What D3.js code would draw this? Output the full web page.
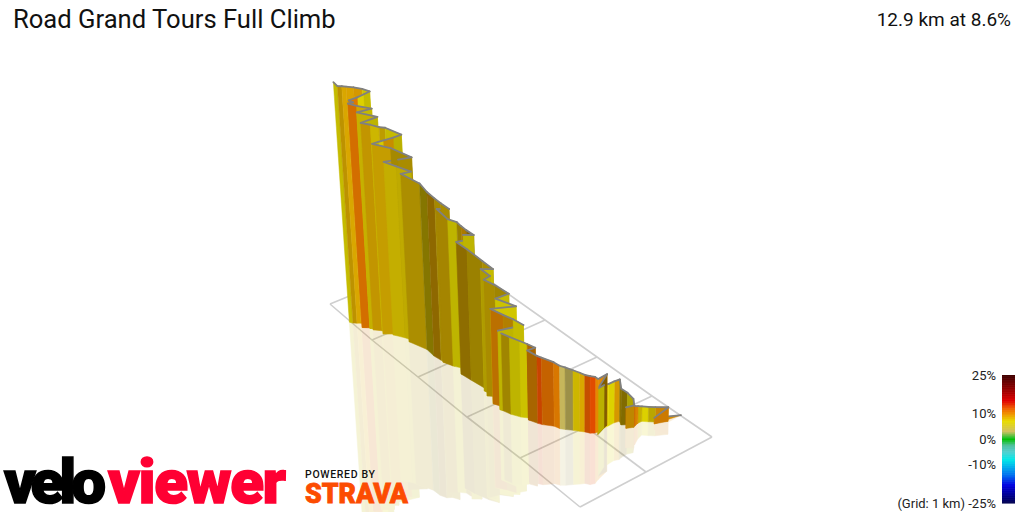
<!DOCTYPE html>
<html>
<head>
<meta charset="utf-8">
<script src="https://cdn.jsdelivr.net/npm/d3@7"></script>
<style>
  html, body { margin: 0; background: #fff; }
  text { font-family: Roboto, sans-serif; }
</style>
</head>
<body>
<div id="chart"></div>
<script>
const titleText = "Road Grand Tours Full Climb";
const summaryText = "12.9 km at 8.6%";

// road points, from the foot of the climb to the summit
// along / across: position on the 1 km ground grid, elevation: metres above the foot
const along = [4.475,4.41,4.47,4.39,4.34,4.29,4.29,4.31,4.28,4.32,4.31,4.24,4.2,4.14,4.125,4.13,4.13,4.18,4.11,4.145,4.14,4.11,4.06,4.02,3.96,3.89,3.84,3.76,3.65,3.6,3.48,3.55,3.45,3.385,3.27,3.16,3.12,3.35,3.255,3.13,2.98,3.2,3.0,3.08,2.9,2.81,2.84,2.71,2.85,2.69,2.44,2.265,2.395,2.365,2.44,2.34,2.255,2.175,2.08,1.935,2.09,1.97,1.89,1.76,1.59,1.315,1.41,1.215,1.07,1.19,1.325,1.11,0.975,1.02,1.06,1.13,1.17,1.04,1.0,0.91,0.82,0.95,0.77,0.89,0.76,0.69,0.73,0.695,0.74,0.77,0.8,0.735,0.66,0.6,0.57,0.535,0.49];
const across = [1.004,0.83,0.908,0.846,0.817,0.791,0.761,0.729,0.675,0.718,0.716,0.703,0.674,0.69,0.655,0.608,0.577,0.508,0.608,0.525,0.505,0.481,0.464,0.445,0.42,0.389,0.369,0.357,0.311,0.298,0.275,0.307,0.287,0.258,0.228,0.212,0.204,0.302,0.265,0.241,0.208,0.311,0.239,0.307,0.271,0.227,0.263,0.244,0.284,0.265,0.247,0.235,0.271,0.251,0.301,0.284,0.278,0.278,0.246,0.22,0.256,0.24,0.223,0.214,0.221,0.18,0.225,0.185,0.143,0.209,0.264,0.186,0.097,0.129,0.155,0.202,0.25,0.178,0.147,0.111,0.07,0.155,0.061,0.135,0.065,0.025,0.052,0.031,0.08,0.118,0.156,0.122,0.083,0.047,0.025,0.004,-0.01];
const elevation = [0,28,65,69,69,69,79,93,97,102,130,148,167,194,192,194,199,213,236,245,259,264,264,271,278,287,291,296,310,312,321,338,342,352,358,358,365,407,426,430,439,463,481,500,518,537,550,564,578,592,606,611,634,657,657,666,671,675,680,708,726,735,749,759,768,777,791,793,800,814,833,860,879,888,895,907,916,944,948,953,957,985,999,1018,1027,1036,1041,1050,1059,1068,1078,1087,1092,1094,1096,1096,1110];

// one value per stretch between two road points
const grade = [9.5,10,9.5,7.5,7,7.5,10,11.5,9,8,7,8,8,9,7,6.8,7,9,10,10,12.5,12,8.5,7.5,3,3,10.5,11,12.5,10,10,10,7,7,8,7.5,7,7,9,10,7,7,7,8,8,7,7.5,7,8,8,8.5,7,7,7,8.5,9,8,7,8.2,8,8,8,8.8,7.5,8,7,7.5,7.5,8.3,8,8,8.3,7,7,9,7,7,8,7.5,8.5,7,7.5,7,8.2,10.8,10,10,10.5,7,7,7,9,8.7,8.5,8.5,7];
const sunlight = [0.9,0.85,0.85,0.8,0.95,0.85,0.9,0.88,0.8,0.7,0.75,0.55,0.6,0.9,0.95,1,0.8,0.55,0.95,0.95,0.95,0.82,0.92,0.88,0.75,0.95,0.9,0.82,0.85,0.7,0.7,0.72,0.88,0.82,0.68,0.78,0.82,0.85,0.75,0.78,0.9,0.88,0.85,0.68,0.72,0.8,0.75,0.85,0.72,0.66,0.6,0.8,0.8,0.82,0.55,0.72,0.65,0.82,0.7,0.72,0.72,0.7,0.6,0.57,0.73,0.8,0.82,0.84,0.84,0.72,0.7,0.84,0.82,0.92,0.84,0.8,0.85,0.8,0.88,0.82,0.82,0.85,0.85,0.88,0.88,0.9,0.9,0.92,0.95,0.85,0.88,0.9,0.92,0.92,0.8,0.85];

const gridKm = [0, 1, 2, 3, 4, 5];
const legendTicks = [25, 10, 0, -10, -25];
const gradeStops = [-25, -18, -14, -8, -5, -2.5, 0, 0.7, 3, 7, 10, 12, 15, 20, 25];
const gradeColors = ["#000050", "#0000e0", "#0070f0", "#00e8e8", "#50d0d0", "#50c0a0", "#00c000", "#30c030", "#d0c060", "#e8dc00", "#f09000", "#f06000", "#e00000", "#8b0000", "#3f0000"];

const width = 1024;
const height = 512;

// ground grid corners, the spacing widens towards the viewer
const nearEdgeX = d3.scaleLinear().domain(gridKm).range([330, 372, 418, 467, 520, 580]);
const nearEdgeY = d3.scaleLinear().domain(gridKm).range([304, 340, 377, 417, 458, 507]);
const farEdgeX = d3.scaleLinear().domain(gridKm).range([452, 497, 545, 597, 652, 712]);
const farEdgeY = d3.scaleLinear().domain(gridKm).range([254, 286, 320, 357, 396, 437]);

const heightScale = d3.scaleLinear().domain([0, 1110]).range([0, 240]);
const colorScale = d3.scaleLinear().domain(gradeStops).range(gradeColors);
const legendY = d3.scaleLinear().domain([-25, 25]).range([503, 375]);

// vertical lines of the wall converge on this point below the picture
const vanishX = 590;
const vanishY = 3937;

const ground = (u, v) => [
  nearEdgeX(u) + (farEdgeX(u) - nearEdgeX(u)) * v,
  nearEdgeY(u) + (farEdgeY(u) - nearEdgeY(u)) * v
];

const lifted = (p, h) => [
  p[0] + (p[0] - vanishX) * h / (vanishY - p[1]),
  p[1] - h
];

// the mirrored wall is foreshortened more the taller it is
const mirrored = (p, h) => lifted(p, -h * (0.93 - 0.0005 * h));

const line = d3.line();

const svg = d3.select("#chart")
  .append("svg")
  .attr("width", width)
  .attr("height", height)
  .attr("viewBox", `0 0 ${width} ${height}`)
  .style("display", "block");

// grid
const gridLines = gridKm.map(k => [ground(k, 0), ground(k, 1)]);
gridLines.push(gridKm.map(k => ground(k, 0)));
gridLines.push(gridKm.map(k => ground(k, 1)));
gridLines.push([ground(4, 0.5), ground(5, 0.5)]);

svg.append("g")
  .selectAll("path")
  .data(gridLines)
  .join("path")
  .attr("d", d => line(d))
  .attr("fill", "none")
  .attr("stroke", "#cfcfcf")
  .attr("stroke-width", 1.6);

// wall strips, far ones first
const base = along.map((u, i) => ground(u, across[i]));
const wallHeight = elevation.map(e => heightScale(e));

const strips = d3.range(grade.length).map(i => ({
  a: base[i],
  b: base[i + 1],
  ha: wallHeight[i],
  hb: wallHeight[i + 1],
  color: d3.interpolateRgb("#000", colorScale(grade[i]))(sunlight[i]),
  depth: (base[i][1] + base[i + 1][1]) / 2
})).sort((p, q) => d3.ascending(p.depth, q.depth));

svg.append("g")
  .attr("opacity", 0.16)
  .selectAll("path")
  .data(strips)
  .join("path")
  .attr("d", d => line([d.a, d.b, mirrored(d.b, d.hb), mirrored(d.a, d.ha)]) + "Z")
  .attr("fill", d => d.color)
  .attr("stroke", d => d.color)
  .attr("stroke-width", 0.5);

const wall = svg.append("g")
  .selectAll("g")
  .data(strips)
  .join("g");

wall.append("path")
  .attr("d", d => line([d.a, d.b, lifted(d.b, d.hb), lifted(d.a, d.ha)]) + "Z")
  .attr("fill", d => d.color)
  .attr("stroke", d => d.color)
  .attr("stroke-width", 0.5);

wall.append("path")
  .attr("d", d => line([lifted(d.a, d.ha), lifted(d.b, d.hb)]))
  .attr("fill", "none")
  .attr("stroke", "#808080")
  .attr("stroke-width", 1.8)
  .attr("stroke-linecap", "round");

// headings
svg.append("text")
  .attr("x", 13)
  .attr("y", 28)
  .attr("font-size", 25.6)
  .attr("fill", "#111")
  .text(titleText);

svg.append("text")
  .attr("x", 1011)
  .attr("y", 26)
  .attr("text-anchor", "end")
  .attr("font-size", 19)
  .attr("fill", "#111")
  .text(summaryText);

// gradient legend
svg.append("g")
  .selectAll("rect")
  .data(d3.range(-25, 25, 0.25))
  .join("rect")
  .attr("x", 1002)
  .attr("y", d => legendY(d + 0.25))
  .attr("width", 13)
  .attr("height", 1.2)
  .attr("fill", d => colorScale(d));

const legendAxis = svg.append("g")
  .attr("transform", "translate(1002, 0)")
  .call(d3.axisLeft(legendY)
    .tickValues(legendTicks)
    .tickSize(0)
    .tickPadding(6)
    .tickFormat(d => d === -25 ? `(Grid: 1 km) ${d}%` : `${d}%`));

legendAxis.select(".domain").remove();
legendAxis.selectAll("text")
  .attr("font-family", "Roboto, sans-serif")
  .attr("font-size", 13)
  .attr("fill", "#222");

// logos
const logoFont = "Inter, sans-serif";

svg.append("text")
  .attr("x", 4)
  .attr("y", 503)
  .attr("font-family", logoFont)
  .attr("font-weight", 900)
  .attr("font-size", 62)
  .attr("textLength", 102)
  .attr("lengthAdjust", "spacing")
  .attr("fill", "#000")
  .attr("stroke", "#000")
  .attr("stroke-width", 1.5)
  .text("velo");

svg.append("text")
  .attr("x", 108)
  .attr("y", 503)
  .attr("font-family", logoFont)
  .attr("font-weight", 900)
  .attr("font-size", 62)
  .attr("textLength", 178)
  .attr("lengthAdjust", "spacing")
  .attr("fill", "#ff0033")
  .attr("stroke", "#ff0033")
  .attr("stroke-width", 1.5)
  .text("viewer");

svg.append("text")
  .attr("x", 305)
  .attr("y", 478)
  .attr("font-family", logoFont)
  .attr("font-weight", 500)
  .attr("font-size", 10.5)
  .attr("textLength", 70)
  .attr("fill", "#111")
  .text("POWERED BY");

svg.append("text")
  .attr("x", 305)
  .attr("y", 503)
  .attr("font-family", logoFont)
  .attr("font-weight", 900)
  .attr("font-size", 27)
  .attr("textLength", 103)
  .attr("lengthAdjust", "spacingAndGlyphs")
  .attr("fill", "#fc4c02")
  .attr("stroke", "#fc4c02")
  .attr("stroke-width", 0.8)
  .text("STRAVA");
</script>
</body>
</html>
